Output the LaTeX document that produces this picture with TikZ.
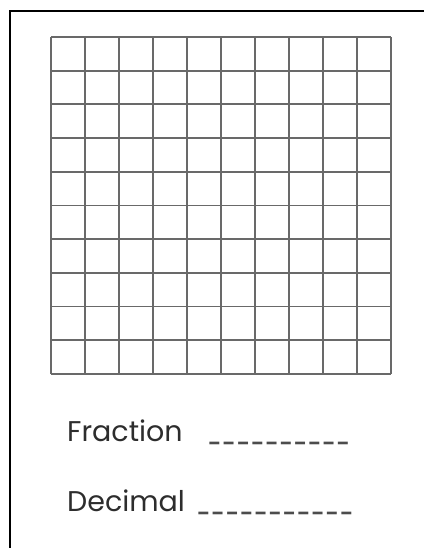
\documentclass[tikz,border=0pt]{standalone}
\usepackage{fontspec}
\setmainfont{Poppins}
\usepackage{tikz}
\usetikzlibrary{positioning}
\definecolor{gridgray}{RGB}{105,105,105}
\definecolor{textgray}{RGB}{45,45,45}
\newcommand\blankline[1]{\foreach \i in {1,...,#1}{\_\hspace{1.8pt}}}

\begin{document}
\begin{tikzpicture}[x=1pt,y=1pt,
        gridline/.style={draw=gridgray, line width=1.8pt},
        label/.style={font=\fontsize{28.5}{30}\selectfont, inner sep=0pt, anchor=base west, text=textgray},
        blank/.style={font=\fontsize{16}{18}\selectfont\bfseries, inner sep=0pt, anchor=base west, text=black!70}]
    \useasboundingbox (0,0) rectangle (423,548);
    % outer card edge
    \draw[line width=2.6pt] (10,-2) -- (10,537) -- (425,537);
    % hundred grid
    \draw[gridline, shift={(51,174)}] (0,0) grid[xstep=34, ystep=33.7] (340,337);
    % answer lines
    \node[label] (fraction) at (67,106) {Fraction};
    \node[blank] (fractionblank) at (208,106) {\blankline{10}};
    \node[label] (decimal) at (67,36) {Decimal};
    \node[blank] (decimalblank) at (197,36) {\blankline{11}};
\end{tikzpicture}
\end{document}
